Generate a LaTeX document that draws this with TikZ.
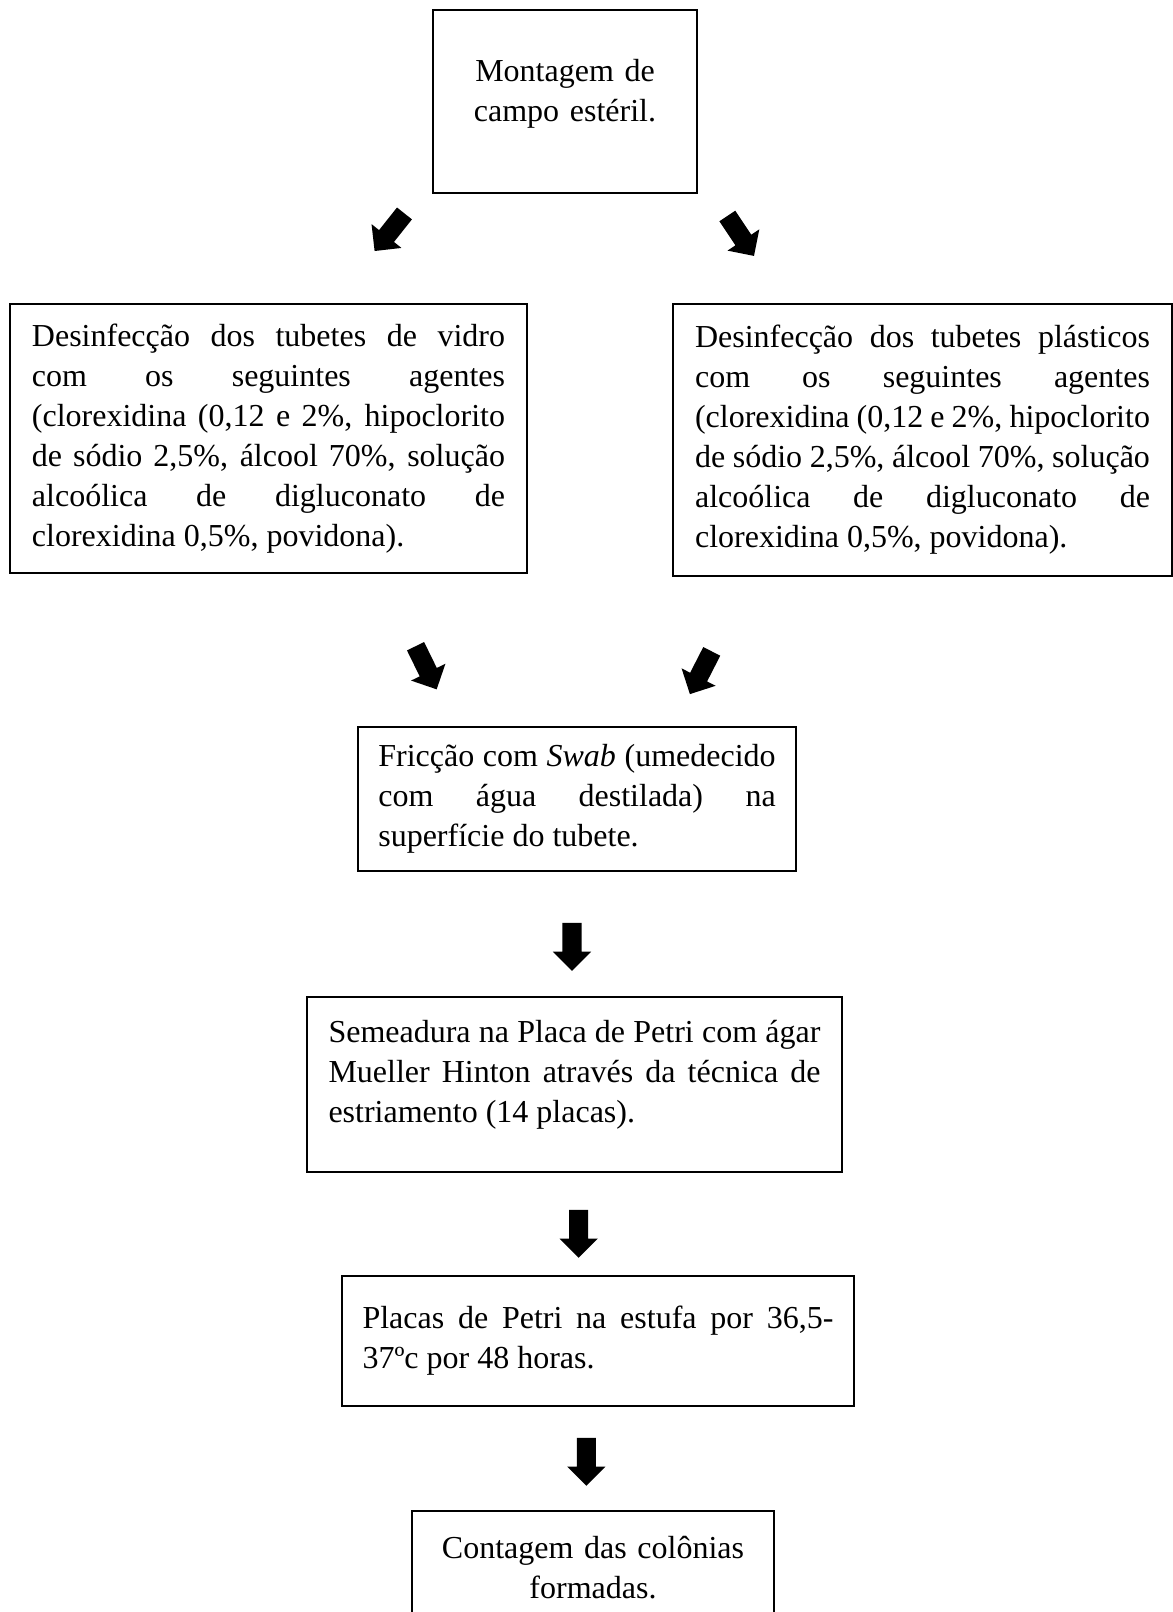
\documentclass[tikz,border=0pt]{standalone}
\usepackage{fontspec}
\setmainfont{Liberation Serif}
\usepackage{tikz}
\usetikzlibrary{shapes.arrows}
\tikzstyle{caixa} = [draw,line width=0.75pt,rectangle,inner xsep=2pt,inner ysep=0pt,align=justify,font=\fontsize{12}{15}\selectfont]
\tikzstyle{seta} = [single arrow,fill=black,draw=none,minimum height=18pt,single arrow head extend=3.6pt,single arrow head indent=0pt,inner xsep=0pt,inner ysep=3.375pt]
\tolerance=10000
\hbadness=10000

\begin{document}
\begin{tikzpicture}[x=0.375pt,y=-0.375pt]
                \useasboundingbox (0,0) rectangle (1173,1612);

                \node (caixaMontagem) [caixa,align=center,text width=90pt,minimum width=99pt,minimum height=68.6pt,text depth=23.2pt] at (565,101.5)
                {Montagem de\\campo estéril.};
                \node (caixaVidro) [caixa,text width=177.4pt,minimum width=193.9pt,minimum height=100.9pt] at (268.5,438.5)
                {Desinfecção dos tubetes de vidro\linebreak com os seguintes agentes\linebreak (clorexidina (0,12 e 2\%, hipoclorito\linebreak de sódio 2,5\%, álcool 70\%, solução\linebreak alcoólica de digluconato de\linebreak clorexidina 0,5\%, povidona).};
                \node (caixaPlastico) [caixa,text width=170.6pt,minimum width=187.1pt,minimum height=102pt] at (922.5,440)
                {Desinfecção dos tubetes plásticos\linebreak com os seguintes agentes\linebreak (clorexidina (0,12 e 2\%, hipoclorito\linebreak de sódio 2,5\%, álcool 70\%, solução\linebreak alcoólica de digluconato de\linebreak clorexidina 0,5\%, povidona).};
                \node (caixaSwab) [caixa,text width=149pt,minimum width=164.25pt,minimum height=54pt] at (577,799)
                {Fricção com \textit{Swab} (umedecido\linebreak com água destilada) na\linebreak superfície do tubete.};
                \node (caixaSemeadura) [caixa,text width=184.5pt,minimum width=200.6pt,minimum height=65.6pt,text depth=39.8pt] at (574.5,1084.5)
                {Semeadura na Placa de Petri com ágar\linebreak Mueller Hinton através da técnica de\linebreak estriamento (14 placas).};
                \node (caixaEstufa) [caixa,text width=176.6pt,minimum width=192pt,minimum height=48.75pt] at (598,1341)
                {Placas de Petri na estufa por 36,5-\linebreak 37ºc por 48 horas.};
                \node (caixaContagem) [caixa,align=center,text width=125pt,minimum width=135.75pt,minimum height=42.75pt] at (593,1568)
                {Contagem das colônias\\formadas.};

                \node (seta1) [seta,rotate=-128.5] at (392.5,228.5) {};
                \node (seta2) [seta,rotate=-56.3] at (738,232) {};
                \node (seta3) [seta,rotate=-63.9] at (424,663.5) {};
                \node (seta4) [seta,rotate=-117.1] at (703,668.5) {};
                \node (seta5) [seta,rotate=-90] at (572,942) {};
                \node (seta6) [seta,rotate=-90] at (578.7,1229) {};
                \node (seta7) [seta,rotate=-90] at (586.3,1457) {};
            \end{tikzpicture}
\end{document}
